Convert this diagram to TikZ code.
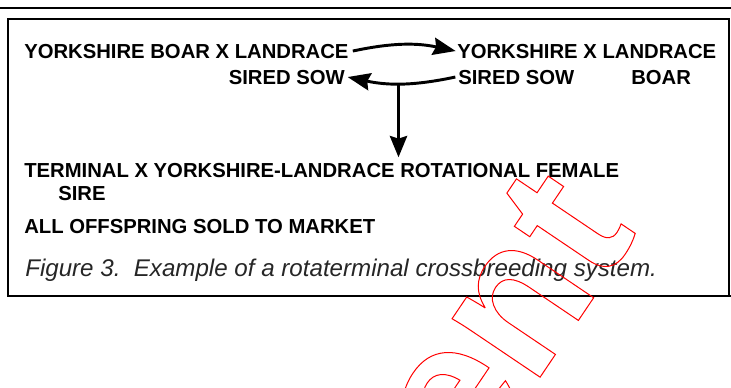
\documentclass[tikz,border=0pt]{standalone}
\usepackage{fontspec}
\setmainfont{Liberation Sans}
\usetikzlibrary{arrows.meta}

\begin{document}
\begin{tikzpicture}[
    x=0.75pt, y=-0.75pt,
    every node/.style={inner sep=0pt, anchor=base west},
    breed/.style={font=\fontsize{15.2}{18}\selectfont\bfseries, text=black},
    caption/.style={font=\fontsize{18.1}{22}\selectfont\itshape, text=black!85},
    flow/.style={draw=black, line width=2.2pt, -{Stealth[length=17pt, width=13pt, inset=2pt]}},
    drop/.style={draw=black, line width=1.9pt, -{Stealth[length=16pt, width=13pt, inset=2pt]}},
    frame/.style={draw=black, line width=1.6pt},
    stamp/.style={text=red, font=\fontsize{150}{150}\selectfont\bfseries}
  ]
  \useasboundingbox (0,0) rectangle (731,387);

  %--------------------------------------
  % 1) rule and frame
  %--------------------------------------
  \draw[line width=2.2pt] (0,8) -- (731,8);
  \draw[frame] (8,19) rectangle (729,296);
  \draw[frame] (729,296) -- (731,296);

  %--------------------------------------
  % 2) rotation: boar line and sow line
  %--------------------------------------
  \node[breed] (yb) at (24,58) {YORKSHIRE BOAR X LANDRACE};
  \node[breed] (yl) at (457,58) {YORKSHIRE X LANDRACE};
  \node[breed, anchor=base east] (ss1) at (345,84) {SIRED SOW};
  \node[breed] (ss2) at (458,84) {SIRED SOW};
  \node[breed] (boar) at (631,84) {BOAR};

  % sow goes right, daughters come back left
  \draw[flow] ([xshift=3pt]yb.east) to[bend left=12] ([xshift=-1pt]yl.west);
  \draw[flow] ([xshift=-2pt]ss2.west) to[bend left=12]
    coordinate[pos=0.53] (split) ([xshift=2pt]ss1.east);

  %--------------------------------------
  % 3) terminal cross
  %--------------------------------------
  \node[breed] (tm) at (24,177) {TERMINAL X YORKSHIRE-LANDRACE ROTATIONAL FEMALE};
  \node[breed] (sire) at (58,200) {SIRE};
  \node[breed] (all) at (24,233) {ALL OFFSPRING SOLD TO MARKET};

  % down to the terminal cross
  \draw[drop] (split) -- ([yshift=4pt]split |- tm.north);

  %--------------------------------------
  % 4) caption
  %--------------------------------------
  \node[caption] (fig) at (25,276) {Figure 3.\ \ Example of a rotaterminal crossbreeding system.};

  %--------------------------------------
  % 5) red outline stamp
  %--------------------------------------
  \begin{scope}
    \clip (0,0) rectangle (731,387);
    \node[stamp, rotate=56, anchor=base east] (mark) at (638,232)
      {\special{pdf:literal direct 1 Tr 0.75 w}ent\special{pdf:literal direct 0 Tr}};
  \end{scope}

\end{tikzpicture}
\end{document}
